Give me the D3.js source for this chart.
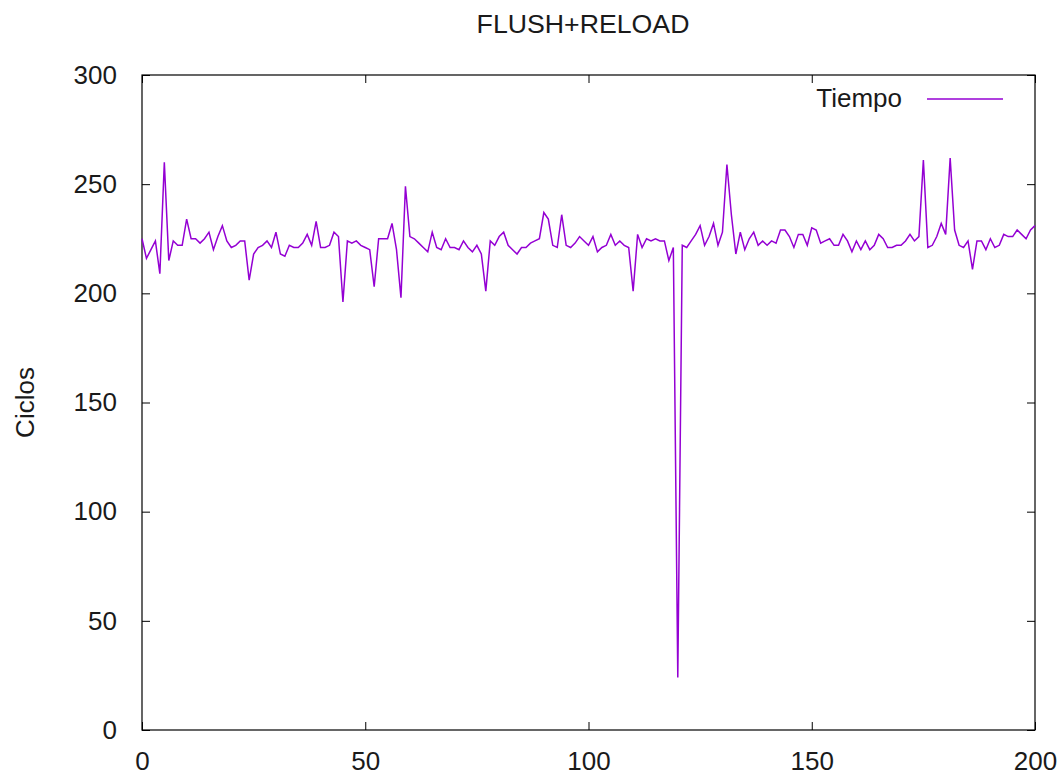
<!DOCTYPE html>
<html>
<head>
<meta charset="utf-8">
<script src="https://cdn.jsdelivr.net/npm/d3@7"></script>
<style>
  body { margin: 0; background: #fff; }
  svg { display: block; }
  text { font-family: "Liberation Sans", Arial, sans-serif; fill: #1a1a1a; }
</style>
</head>
<body>
<svg id="chart" width="1062" height="776"></svg>
<script>
// Tiempo (ciclos) por muestra, indice 0..200
var tiempo = [
  225, 216, 220, 224, 209, 260, 215, 224, 222, 222,
  234, 225, 225, 223, 225, 228, 220, 226, 231, 224,
  221, 222, 224, 224, 206, 218, 221, 222, 224, 221,
  228, 218, 217, 222, 221, 221, 223, 227, 222, 233,
  221, 221, 222, 228, 226, 196, 224, 223, 224, 222,
  221, 220, 203, 225, 225, 225, 232, 220, 198, 249,
  226, 225, 223, 221, 219, 228, 221, 220, 225, 221,
  221, 220, 224, 221, 219, 222, 218, 201, 224, 222,
  226, 228, 222, 220, 218, 221, 221, 223, 224, 225,
  237, 234, 222, 221, 236, 222, 221, 223, 226, 224,
  222, 226, 219, 221, 222, 227, 222, 224, 222, 221,
  201, 227, 221, 225, 224, 225, 224, 224, 215, 221,
  24, 222, 221, 224, 227, 231, 222, 226, 232, 222,
  228, 259, 236, 218, 228, 220, 225, 228, 222, 224,
  222, 224, 223, 229, 229, 226, 221, 227, 227, 222,
  230, 229, 223, 224, 225, 222, 222, 227, 224, 219,
  224, 220, 224, 220, 222, 227, 225, 221, 221, 222,
  222, 224, 227, 224, 226, 261, 221, 222, 226, 232,
  227, 262, 229, 222, 221, 224, 211, 224, 224, 220,
  225, 221, 222, 227, 226, 226, 229, 227, 225, 229,
  231
];
var xTicks = [0, 50, 100, 150, 200];
var yTicks = [0, 50, 100, 150, 200, 250, 300];
var titulo = "FLUSH+RELOAD";
var etiquetaY = "Ciclos";
var leyenda = "Tiempo";

var margin = {left: 142, right: 27, top: 75, bottom: 46},
    width = 1062 - margin.left - margin.right,
    height = 776 - margin.top - margin.bottom;

var svg = d3.select('#chart');
var g = svg.append('g').attr('transform', 'translate(' + margin.left + ',' + margin.top + ')');

var x = d3.scaleLinear().domain([0, 200]).range([0, width]);
var y = d3.scaleLinear().domain([0, 300]).range([height, 0]);

// ejes (ticks hacia dentro, como gnuplot)
var fontSize = 26;
g.append('g')
    .attr('transform', 'translate(0,' + height + ')')
    .call(d3.axisBottom(x).tickValues(xTicks).tickSizeInner(-8).tickSizeOuter(0).tickPadding(22));
g.append('g')
    .call(d3.axisLeft(y).tickValues(yTicks).tickSizeInner(-8).tickSizeOuter(0).tickPadding(25));
g.append('g')
    .call(d3.axisTop(x).tickValues(xTicks).tickSizeInner(-8).tickSizeOuter(0).tickFormat(''));
g.append('g')
    .attr('transform', 'translate(' + width + ',0)')
    .call(d3.axisRight(y).tickValues(yTicks).tickSizeInner(-8).tickSizeOuter(0).tickFormat(''));

g.selectAll('.domain').remove();
g.selectAll('.tick line').attr('stroke', '#000').attr('stroke-width', 1);
g.selectAll('.tick text')
    .attr('font-size', fontSize)
    .attr('font-family', '"Liberation Sans", Arial, sans-serif')
    .attr('fill', '#1a1a1a');

// borde
g.append('rect')
    .attr('width', width).attr('height', height)
    .attr('fill', 'none').attr('stroke', '#000').attr('stroke-width', 1.2);

// linea de datos
var line = d3.line()
    .x(function(d, i) { return x(i); })
    .y(function(d) { return y(d); });

g.append('path')
    .datum(tiempo)
    .attr('fill', 'none')
    .attr('stroke', '#9400d3')
    .attr('stroke-width', 1.5)
    .attr('d', line);

// titulo
svg.append('text')
    .attr('x', 583)
    .attr('y', 33)
    .attr('text-anchor', 'middle')
    .attr('font-size', 26.7)
    .text(titulo);

// etiqueta eje y
svg.append('text')
    .attr('transform', 'translate(34,' + (margin.top + height / 2) + ') rotate(-90)')
    .attr('text-anchor', 'middle')
    .attr('font-size', fontSize)
    .text(etiquetaY);

// leyenda
var ley = g.append('g');
ley.append('text')
    .attr('x', 760)
    .attr('y', 32)
    .attr('text-anchor', 'end')
    .attr('font-size', fontSize)
    .text(leyenda);
ley.append('line')
    .attr('x1', 785).attr('x2', 861)
    .attr('y1', 24).attr('y2', 24)
    .attr('stroke', '#9400d3')
    .attr('stroke-width', 1.5);
</script>
</body>
</html>
